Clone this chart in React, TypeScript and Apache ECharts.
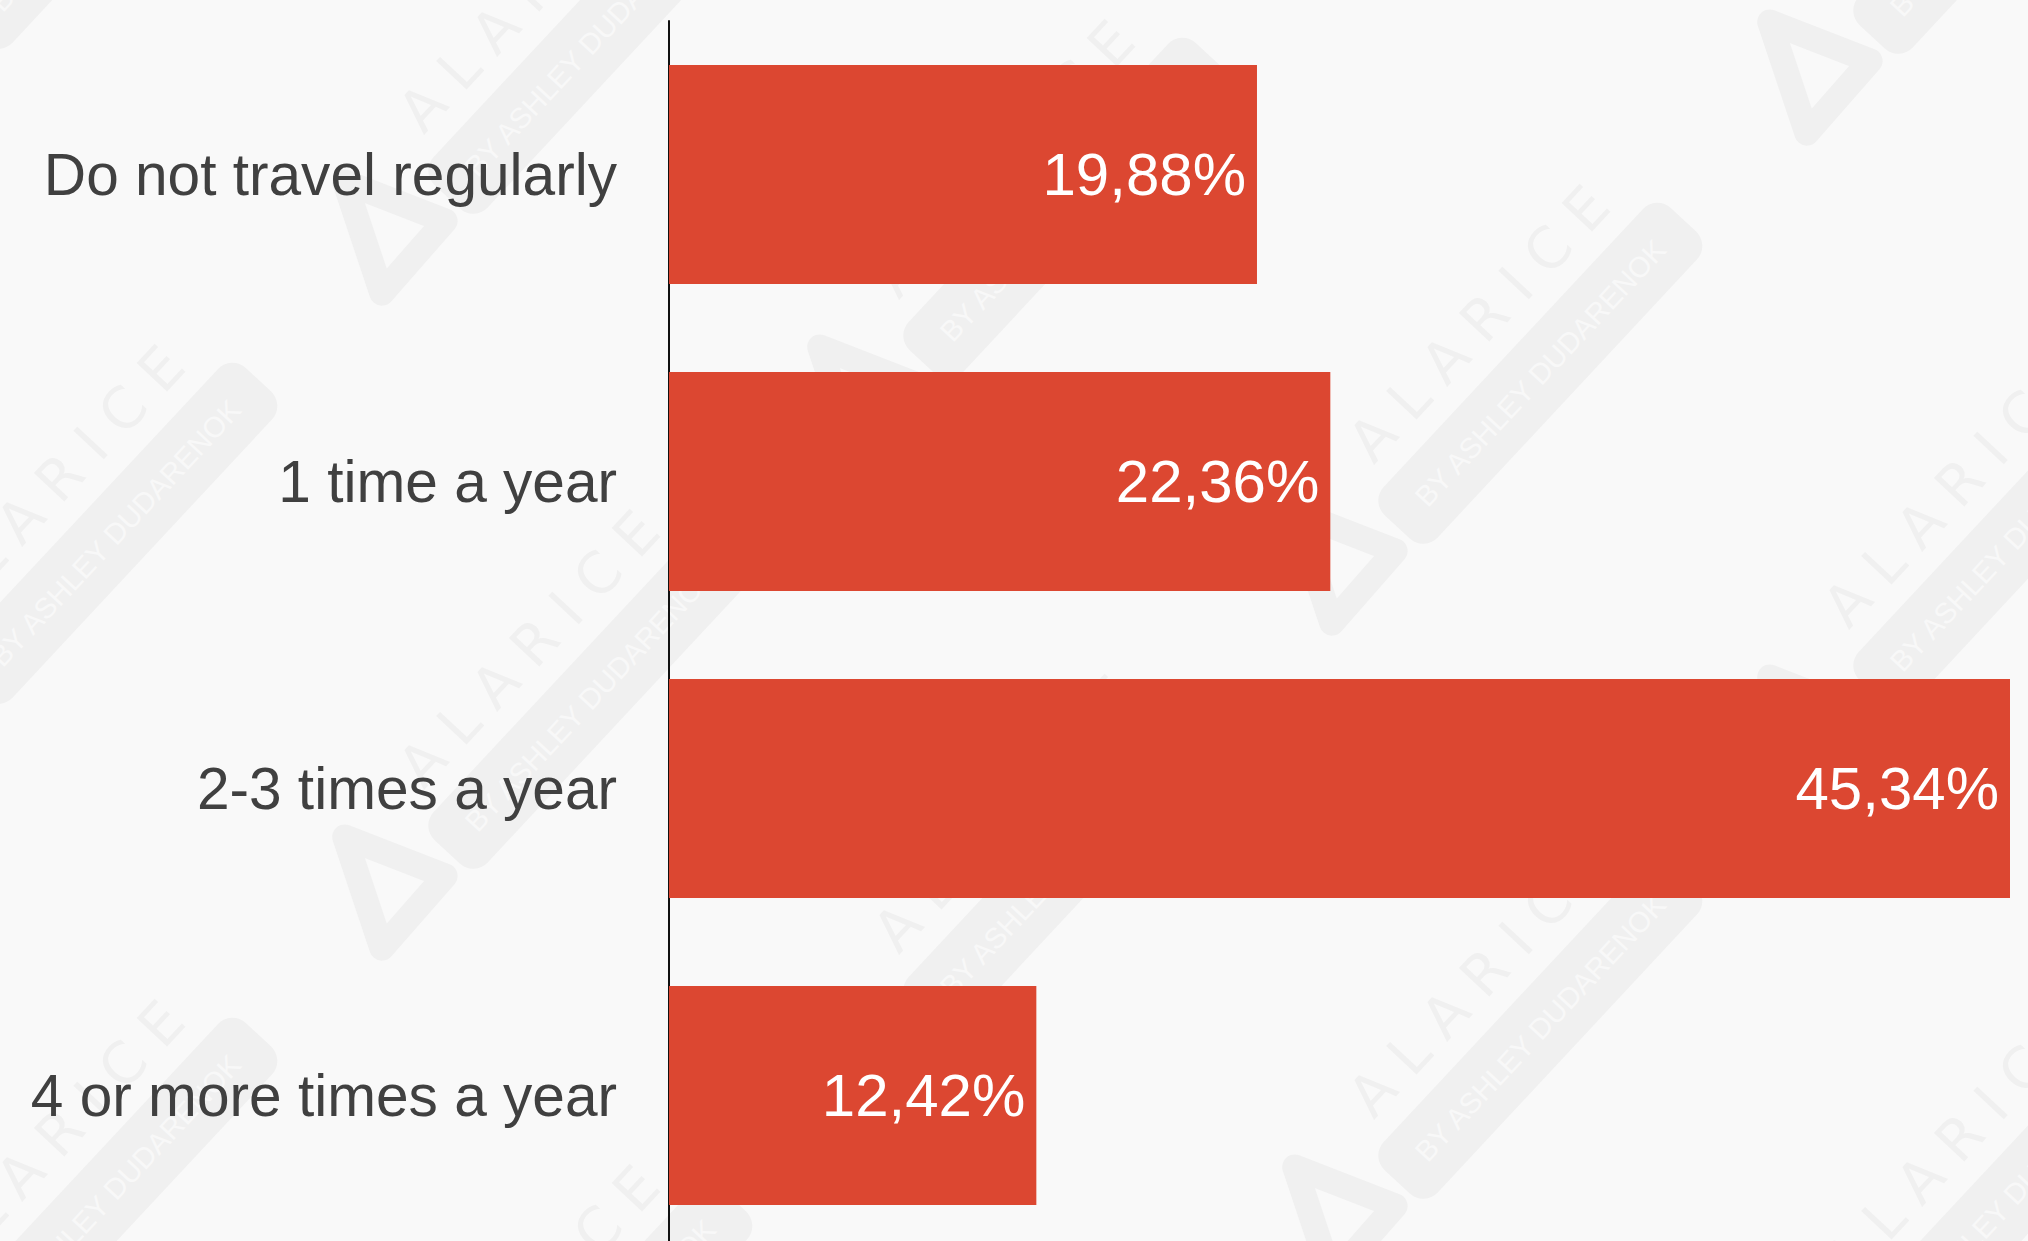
import React, { useEffect, useRef } from "react";
import * as echarts from "echarts";

// ---- data ----
const categories: string[] = [
  "Do not travel regularly",
  "1 time a year",
  "2-3 times a year",
  "4 or more times a year",
];
const shares: number[] = [19.88, 22.36, 45.34, 12.42];

// ---- styling ----
const BG = "#f9f9f9";
const BAR = "#dc4731";
const TEXT = "#404040";
const FONT = "'Liberation Sans', Arial, Helvetica, sans-serif";
const WM = "#f0f0f0";

const ANGLE = (47 * Math.PI) / 180;

function watermarkTile(x: number, y: number): any {
  return {
    type: "group",
    x,
    y,
    rotation: ANGLE,
    silent: true,
    children: [
      {
        type: "text",
        x: -16,
        y: 0,
        style: {
          text: "A L A R I C E",
          fill: WM,
          font: `57px 'DejaVu Sans', sans-serif`,
          textAlign: "left",
          textVerticalAlign: "middle",
        },
      },
      {
        type: "rect",
        shape: { x: -45, y: 42, width: 420, height: 74, r: 20 },
        style: { fill: WM },
      },
      {
        type: "text",
        x: 165,
        y: 79,
        style: {
          text: "BY ASHLEY DUDARENOK",
          fill: "#f8f8f8",
          font: `29px ${FONT}`,
          textAlign: "center",
          textVerticalAlign: "middle",
        },
      },
      {
        type: "polygon",
        x: -110,
        y: 62,
        shape: {
          points: [
            [6, -68],
            [46, 32],
            [-50, 35],
          ],
        },
        style: {
          fill: "none",
          stroke: WM,
          lineWidth: 25,
          lineJoin: "round",
        },
      },
    ],
  };
}

function buildWatermarks(): any[] {
  const out: any[] = [];
  for (let i = -1; i <= 3; i++) {
    for (let j = -2; j <= 2; j++) {
      const x = 420 + 475 * i;
      const y = 110 + 165 * i + 655 * j;
      if (y < -420 || y > 1650) continue;
      out.push(watermarkTile(x, y));
    }
  }
  return out;
}

export default function App() {
  const ref = useRef<HTMLDivElement | null>(null);

  useEffect(() => {
    document.body.style.margin = "0";
    document.body.style.background = BG;
    if (!ref.current) return;
    const chart = echarts.init(ref.current, undefined, { renderer: "svg" });
    chart.setOption({
      animation: false,
      backgroundColor: BG,
      graphic: { elements: buildWatermarks() },
      grid: { left: 669, right: 18, top: 21, height: 1228, containLabel: false },
      xAxis: {
        type: "value",
        min: 0,
        max: "dataMax",
        show: false,
      },
      yAxis: {
        type: "category",
        data: categories,
        inverse: true,
        z: 3,
        axisLine: { show: true, lineStyle: { color: "#111111", width: 2 } },
        axisTick: { show: false },
        splitLine: { show: false },
        axisLabel: {
          fontSize: 58.6,
          color: TEXT,
          fontFamily: FONT,
          margin: 52,
        },
      },
      series: [
        {
          type: "bar",
          data: shares,
          z: 3,
          barCategoryGap: "28.6%",
          itemStyle: { color: BAR },
          label: {
            show: true,
            position: "insideRight",
            distance: 11,
            color: "#ffffff",
            fontSize: 60,
            fontFamily: FONT,
            formatter: (p: any) =>
              Number(p.value).toFixed(2).replace(".", ",") + "%",
          },
        },
      ],
    });
    return () => chart.dispose();
  }, []);

  return (
    <div style={{ width: 2028, height: 1241, overflow: "hidden", background: BG }}>
      <div ref={ref} style={{ width: 2028, height: 1262 }} />
    </div>
  );
}
